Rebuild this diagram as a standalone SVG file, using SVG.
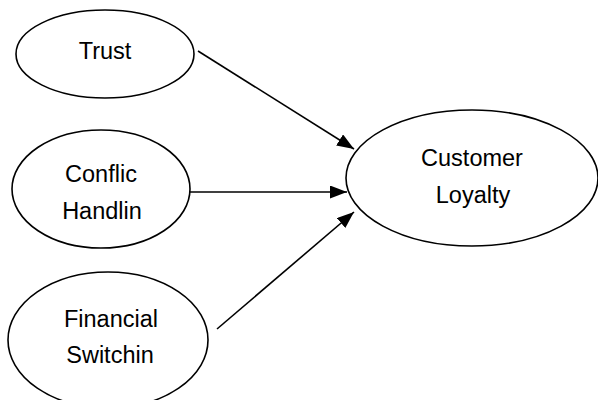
<svg xmlns="http://www.w3.org/2000/svg" width="598" height="400" viewBox="0 0 598 400">
<style>
.n{fill:#fff;stroke:#000;stroke-width:1.6}
.t{font-family:"Liberation Sans",Arial,sans-serif;font-size:23.5px;fill:#000;text-anchor:middle}
.c{stroke:#000;stroke-width:1.6;fill:none;marker-end:url(#ah)}
</style>
<defs>
<marker id="ah" markerUnits="userSpaceOnUse" markerWidth="18" markerHeight="14" refX="17" refY="6.5" orient="auto">
<path d="M0,0 L17,6.5 L0,13 z" fill="#000"/>
</marker>
</defs>
<rect width="598" height="400" fill="#fff"/>
<g id="trust">
<ellipse class="n" cx="105" cy="54" rx="89" ry="44"/>
<text class="t" x="105" y="59">Trust</text>
</g>
<g id="conflict">
<ellipse class="n" cx="101" cy="189" rx="89" ry="59"/>
<text class="t" x="101" y="182">Conflic</text>
<text class="t" x="102" y="219">Handlin</text>
</g>
<g id="financial">
<ellipse class="n" cx="108" cy="340" rx="100" ry="68"/>
<text class="t" x="111" y="327">Financial</text>
<text class="t" x="110" y="363">Switchin</text>
</g>
<g id="loyalty">
<ellipse class="n" cx="472" cy="178" rx="126" ry="68"/>
<text class="t" x="472" y="166">Customer</text>
<text class="t" x="473" y="203">Loyalty</text>
</g>
<g id="connectors">
<line class="c" x1="198" y1="51" x2="354" y2="149"/>
<line class="c" x1="190" y1="192" x2="347" y2="192"/>
<line class="c" x1="217" y1="329" x2="354" y2="212"/>
</g>
</svg>
